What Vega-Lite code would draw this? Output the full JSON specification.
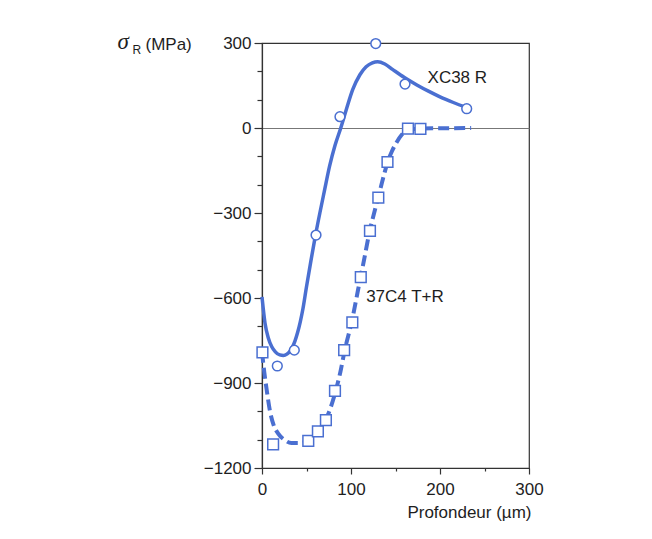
{
  "$schema": "https://vega.github.io/schema/vega-lite/v6.json",
  "width": 267,
  "height": 425,
  "autosize": "none",
  "padding": {"left": 262, "top": 43, "right": 123, "bottom": 71},
  "background": "white",
  "config": {
    "view": {"stroke": "#333333", "strokeWidth": 1.2},
    "font": "Liberation Sans",
    "axis": {"labelFont": "Liberation Sans", "labelFontSize": 17, "labelColor": "#1e1e1e", "titleColor": "#1e1e1e", "titleFont": "Liberation Sans", "titleFontWeight": "normal", "domainColor": "#333333", "tickColor": "#333333", "domainWidth": 1.2, "tickWidth": 1.2, "grid": false}
  },
  "datasets": {
    "xc38_curve": [
      {"x": 0, "y": -596}, {"x": 3.4, "y": -689}, {"x": 7, "y": -740}, {"x": 11, "y": -772}, {"x": 15, "y": -790},
      {"x": 20, "y": -801}, {"x": 24, "y": -803}, {"x": 28, "y": -798}, {"x": 31, "y": -789}, {"x": 34, "y": -774},
      {"x": 37, "y": -752}, {"x": 40, "y": -722}, {"x": 43, "y": -684}, {"x": 46, "y": -638},
      {"x": 50, "y": -560}, {"x": 55, "y": -468}, {"x": 60, "y": -380}, {"x": 65, "y": -300}, {"x": 70, "y": -224},
      {"x": 76, "y": -134}, {"x": 82, "y": -62}, {"x": 88.5, "y": 0}, {"x": 95, "y": 68}, {"x": 102, "y": 136},
      {"x": 110, "y": 188}, {"x": 117, "y": 216}, {"x": 124, "y": 230}, {"x": 130, "y": 234}, {"x": 138, "y": 226},
      {"x": 147, "y": 206}, {"x": 160, "y": 178}, {"x": 174, "y": 152}, {"x": 187, "y": 130}, {"x": 200, "y": 110},
      {"x": 215, "y": 90}, {"x": 230, "y": 72}
    ],
    "c37_curve": [
      {"x": 0, "y": -790}, {"x": 2.5, "y": -860}, {"x": 5.3, "y": -925}, {"x": 9, "y": -1000}, {"x": 13, "y": -1048},
      {"x": 18, "y": -1078}, {"x": 25, "y": -1100}, {"x": 33, "y": -1112}, {"x": 42, "y": -1112}, {"x": 52, "y": -1104},
      {"x": 60, "y": -1085}, {"x": 67, "y": -1054}, {"x": 75, "y": -1005}, {"x": 82, "y": -937}, {"x": 88, "y": -862},
      {"x": 93, "y": -784}, {"x": 100.8, "y": -684}, {"x": 108, "y": -570}, {"x": 115, "y": -460}, {"x": 121, "y": -363},
      {"x": 126, "y": -300}, {"x": 131, "y": -240}, {"x": 136, "y": -178}, {"x": 141, "y": -122}, {"x": 146, "y": -82},
      {"x": 151, "y": -52}, {"x": 157, "y": -24}, {"x": 163, "y": -8}, {"x": 178, "y": -2}, {"x": 200, "y": -1},
      {"x": 235, "y": 0}
    ],
    "xc38_pts": [
      {"x": 17.2, "y": -840}, {"x": 36.3, "y": -784}, {"x": 60.7, "y": -378}, {"x": 87.6, "y": 40},
      {"x": 127.8, "y": 298}, {"x": 160.7, "y": 155}, {"x": 230, "y": 68}
    ],
    "c37_pts": [
      {"x": 0.5, "y": -792}, {"x": 12.5, "y": -1117}, {"x": 52, "y": -1104}, {"x": 62.8, "y": -1071},
      {"x": 71.8, "y": -1031}, {"x": 82, "y": -928}, {"x": 92.3, "y": -784}, {"x": 101.5, "y": -686},
      {"x": 111, "y": -526}, {"x": 121.3, "y": -363}, {"x": 130.7, "y": -246}, {"x": 141, "y": -120},
      {"x": 164, "y": -2}, {"x": 178, "y": -3}
    ],
    "labels": [
      {"x": 186, "y": 160, "label": "XC38 R"},
      {"x": 117, "y": -615, "label": "37C4 T+R"}
    ]
  },
  "encoding": {
    "x": {
      "field": "x", "type": "quantitative",
      "scale": {"domain": [0, 300], "nice": false, "zero": false},
      "axis": {
        "values": [0, 50, 100, 150, 200, 250, 300],
        "format": "d",
        "labelExpr": "datum.value % 100 === 0 ? datum.label : ''",
        "tickSize": {"condition": {"test": "datum.value % 100 === 0", "value": 6}, "value": 3},
        "labelPadding": 7, "labelFlush": false, "labelOverlap": false,
        "title": "Profondeur (µm)", "titleFontSize": 17,
        "titleX": 269, "titleY": 49, "titleAlign": "right", "titleBaseline": "alphabetic"
      }
    }
  },
  "resolve": {"axis": {"y": "independent"}},
  "layer": [
    {
      "data": {"name": "xc38_curve"},
      "mark": {"type": "line", "color": "#4a6fd1", "strokeWidth": 3.5, "interpolate": "monotone"},
      "encoding": {
        "y": {
          "field": "y", "type": "quantitative",
          "scale": {"domain": [-1200, 300], "nice": false, "zero": false},
          "axis": {
            "orient": "left",
            "values": [-1200, -1100, -1000, -900, -800, -700, -600, -500, -400, -300, -200, -100, 0, 100, 200, 300],
            "format": "d",
            "labelExpr": "datum.value % 300 === 0 ? datum.label : ''",
            "tickSize": {"condition": {"test": "datum.value % 300 === 0", "value": 8}, "value": 5},
            "labelPadding": 3, "labelOverlap": false, "labelFlush": false,
            "title": "σ", "titleAngle": 0, "titleFont": "Liberation Serif", "titleFontStyle": "italic", "titleFontSize": 23,
            "titleX": -145, "titleY": 5, "titleAlign": "left", "titleBaseline": "alphabetic"
          }
        }
      }
    },
    {
      "data": {"name": "c37_curve"},
      "mark": {"type": "line", "color": "#4a6fd1", "strokeWidth": 4, "strokeDash": [11, 5], "interpolate": "monotone"},
      "encoding": {
        "y": {
          "field": "y", "type": "quantitative",
          "scale": {"domain": [-1200, 300], "nice": false, "zero": false},
          "axis": {
            "orient": "left", "labels": false, "ticks": false, "domain": false,
            "grid": true, "values": [0], "gridColor": "#777777", "gridWidth": 1,
            "title": "R", "titleAngle": 0, "titleFontSize": 12,
            "titleX": -130, "titleY": 10, "titleAlign": "left", "titleBaseline": "alphabetic"
          }
        }
      }
    },
    {
      "data": {"name": "xc38_pts"},
      "mark": {"type": "point", "shape": "circle", "size": 95, "filled": true, "fill": "white", "stroke": "#4a6fd1", "strokeWidth": 1.5, "opacity": 1},
      "encoding": {
        "y": {
          "field": "y", "type": "quantitative",
          "scale": {"domain": [-1200, 300], "nice": false, "zero": false},
          "axis": {
            "orient": "left", "labels": false, "ticks": false, "domain": false,
            "title": "(MPa)", "titleAngle": 0, "titleFontSize": 17,
            "titleX": -117, "titleY": 6, "titleAlign": "left", "titleBaseline": "alphabetic"
          }
        }
      }
    },
    {
      "data": {"name": "c37_pts"},
      "mark": {"type": "point", "shape": "square", "size": 115, "filled": true, "fill": "white", "stroke": "#4a6fd1", "strokeWidth": 1.5, "opacity": 1},
      "encoding": {
        "y": {"field": "y", "type": "quantitative", "scale": {"domain": [-1200, 300], "nice": false, "zero": false}, "axis": null}
      }
    },
    {
      "data": {"name": "labels"},
      "mark": {"type": "text", "align": "left", "baseline": "alphabetic", "font": "Liberation Sans", "fontSize": 17, "color": "#1e1e1e"},
      "encoding": {
        "y": {"field": "y", "type": "quantitative", "scale": {"domain": [-1200, 300], "nice": false, "zero": false}, "axis": null},
        "text": {"field": "label"}
      }
    }
  ]
}
